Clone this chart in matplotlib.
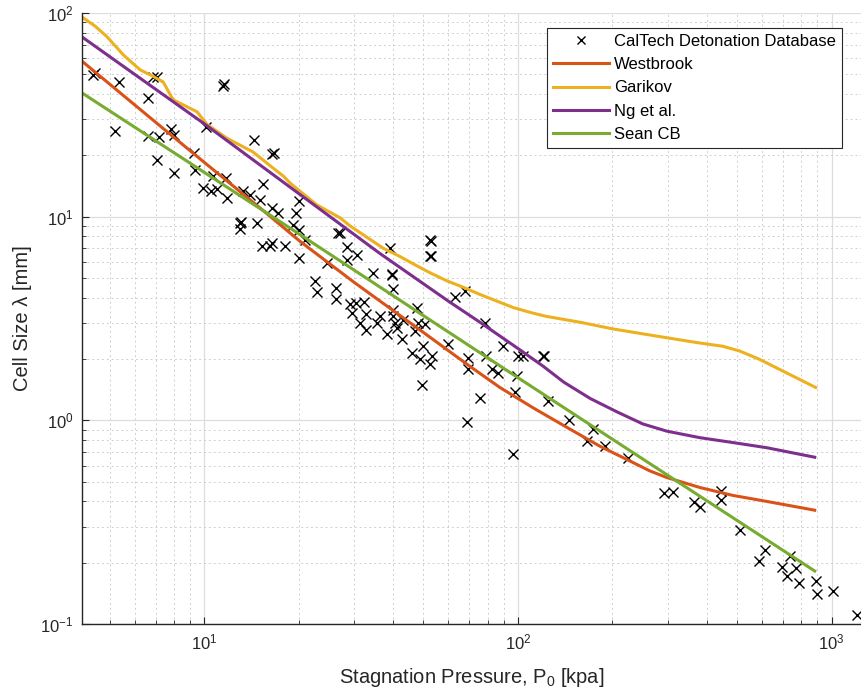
import matplotlib
matplotlib.use('Agg')
import matplotlib.pyplot as plt
from matplotlib.ticker import LogLocator, NullFormatter

plt.rcParams['font.family'] = ['Liberation Sans', 'DejaVu Sans']
plt.rcParams['mathtext.default'] = 'regular'

# CalTech detonation database: stagnation pressure [kPa], cell size [mm]
cal_p = [4.43, 4.50, 5.37, 5.20, 6.62, 6.85, 7.10, 6.62, 7.20, 7.83, 8.04, 7.10, 8.04,
         9.25, 9.36, 10.1, 11.5, 11.6, 9.95, 10.5, 11.0, 10.7, 11.7, 11.8, 14.4, 16.4,
         16.7, 15.4, 13.3, 14.0, 15.1, 16.4, 17.2, 13.0, 13.1, 13.0, 14.7, 15.3, 16.2,
         16.5, 18.1, 19.6, 19.2, 20.1, 21.0, 20.0, 20.1, 24.6, 22.6, 22.9, 26.3, 26.3,
         26.7, 27.1, 28.5, 28.5, 30.8, 34.6, 39.6, 39.8, 39.9, 39.1, 52.5, 52.8, 52.5,
         52.8, 29.2, 30.5, 32.2, 29.5, 32.9, 31.4, 32.8, 35.6, 36.3, 38.2, 40.1, 40.6,
         41.1, 42.6, 47.6, 48.2, 50.6, 49.9, 60.0, 39.9, 43.0, 47.0, 53.1, 45.8, 48.8,
         52.3, 49.3, 63.0, 67.8, 69.5, 69.5, 75.7, 68.7, 78.5, 79.4, 82.4, 86.5, 89.8,
         97.8, 99.0, 100.0, 103.5, 120.0, 121.5, 125.0, 145.0, 96.6, 173.0, 166.0, 189.0,
         225.0, 292.0, 312.0, 364.0, 380.0, 445.0, 445.0, 509.0, 586.0, 612.0, 697.0,
         721.0, 768.0, 734.0, 787.0, 889.0, 898.0, 1013.0, 1200.0]
cal_l = [49.6, 50.5, 46.0, 26.4, 38.4, 48.4, 48.4, 24.9, 24.7, 26.9, 25.2, 18.9, 16.3,
         20.5, 17.0, 27.7, 43.8, 44.8, 13.8, 13.3, 13.6, 15.8, 15.5, 12.4, 23.7, 20.4,
         20.6, 14.5, 13.3, 12.8, 12.1, 11.0, 10.4, 9.31, 9.40, 8.71, 9.31, 7.21, 7.21,
         7.43, 7.21, 10.4, 9.14, 8.57, 7.71, 6.25, 11.9, 5.89, 4.85, 4.26, 4.47, 3.95,
         8.31, 8.31, 7.07, 6.15, 6.45, 5.30, 5.20, 5.25, 4.43, 7.03, 7.66, 7.60, 6.38,
         6.40, 3.71, 3.78, 3.80, 3.37, 3.34, 3.01, 2.79, 3.01, 3.25, 2.64, 3.25, 3.01,
         2.85, 2.51, 3.56, 3.01, 2.96, 2.31, 2.36, 3.50, 3.10, 2.74, 2.08, 2.13, 1.99,
         1.88, 1.49, 4.03, 4.31, 2.03, 1.78, 1.28, 0.98, 3.01, 2.08, 1.78, 1.71, 2.31,
         1.37, 1.65, 2.08, 2.07, 2.07, 2.06, 1.24, 1.00, 0.68, 0.903, 0.792, 0.748,
         0.651, 0.438, 0.445, 0.398, 0.374, 0.450, 0.405, 0.290, 0.204, 0.231, 0.190,
         0.173, 0.188, 0.215, 0.159, 0.163, 0.140, 0.146, 0.111]

# model curves
west_p = [4.08, 7, 10, 15, 20.2, 30, 50, 70, 87.6, 112, 143, 182, 232, 263, 298, 380,
          484, 620, 883]
west_l = [58.0, 29.1, 18.5, 11.1, 7.57, 4.77, 2.70, 1.85, 1.45, 1.15, 0.925, 0.748,
          0.622, 0.565, 0.524, 0.468, 0.428, 0.400, 0.362]

gar_p = [4.07, 4.50, 4.90, 5.53, 6.25, 6.73, 7.40, 7.96, 9.50, 10.2, 11.8, 14.3, 16.6,
         17.9, 18.8, 22.9, 27.1, 29.2, 33.1, 37.2, 42.1, 47.0, 52.5, 59.2, 67.0, 75.7,
         96.6, 110, 123, 158, 201, 257, 300, 371, 450, 509, 590, 718, 889]
gar_l = [95.9, 86.0, 76.5, 62.2, 52.6, 49.7, 45.9, 37.5, 32.7, 28.4, 24.3, 20.8, 17.3,
         15.8, 14.6, 11.4, 9.88, 9.0, 7.9, 7.0, 6.37, 5.8, 5.30, 4.85, 4.50, 4.15,
         3.58, 3.38, 3.24, 3.03, 2.81, 2.64, 2.54, 2.41, 2.31, 2.19, 1.99, 1.71, 1.45]

ng_p = [4.08, 10, 21.3, 36.3, 60, 75.7, 101, 120, 140, 170, 207, 250, 298, 380, 484,
        620, 883]
ng_l = [76.3, 28.6, 12.1, 6.6, 3.85, 3.03, 2.23, 1.85, 1.54, 1.28, 1.10, 0.96, 0.885,
        0.822, 0.778, 0.734, 0.659]

sean_p = [4.08, 20.2, 100, 883]
sean_l = [40.5, 8.17, 1.62, 0.182]

dark = '#262626'

fig = plt.figure(figsize=(8.61, 6.96), dpi=100)
ax = fig.add_axes([82 / 861, 1 - 624 / 696, (861 - 82) / 861, (624 - 13) / 696])

ax.plot(cal_p, cal_l, 'x', color='k', ms=6.5, mew=1.0, label='CalTech Detonation Database')
ax.plot(west_p, west_l, color='#D95319', lw=2.2, label='Westbrook')
ax.plot(gar_p, gar_l, color='#EDB120', lw=2.2, label='Garikov')
ax.plot(ng_p, ng_l, color='#7E2F8E', lw=2.2, label='Ng et al.')
ax.plot(sean_p, sean_l, color='#77AC30', lw=2.2, label='Sean CB')

ax.set_xscale('log')
ax.set_yscale('log')
ax.set_xlim(4.08, 1240)
ax.set_ylim(0.1, 100)
ax.xaxis.set_minor_locator(LogLocator(base=10, subs=range(2, 10), numticks=20))
ax.yaxis.set_minor_locator(LogLocator(base=10, subs=range(2, 10), numticks=20))
ax.xaxis.set_minor_formatter(NullFormatter())
ax.yaxis.set_minor_formatter(NullFormatter())

ax.grid(True, which='major', color='#dddddd', lw=0.9, ls='-')
ax.grid(True, which='minor', color='#cfcfcf', lw=0.7, ls=(0, (2, 3)))
ax.set_axisbelow(True)

for s in ['top', 'right']:
    ax.spines[s].set_visible(False)
for s in ['left', 'bottom']:
    ax.spines[s].set_color(dark)
    ax.spines[s].set_linewidth(1.0)

ax.tick_params(which='both', direction='in', colors=dark, labelsize=12, pad=6)
ax.tick_params(which='major', length=5)
ax.tick_params(which='minor', length=3)

ax.set_xlabel('Stagnation Pressure, P$_0$ [kpa]', fontsize=14.5, color=dark, labelpad=10)
ax.set_ylabel('Cell Size λ [mm]', fontsize=14.5, color=dark, labelpad=6)

leg = ax.legend(loc='upper right', bbox_to_anchor=(842 / 861, 1 - 28 / 696),
                bbox_transform=fig.transFigure, borderaxespad=0, fontsize=12,
                frameon=True, fancybox=False, edgecolor=dark, framealpha=1,
                handlelength=3.4, handletextpad=0.3, labelspacing=0.5,
                borderpad=0.35, markerscale=0.8)
leg.get_frame().set_linewidth(0.8)

fig.savefig('out.png', dpi=100)
